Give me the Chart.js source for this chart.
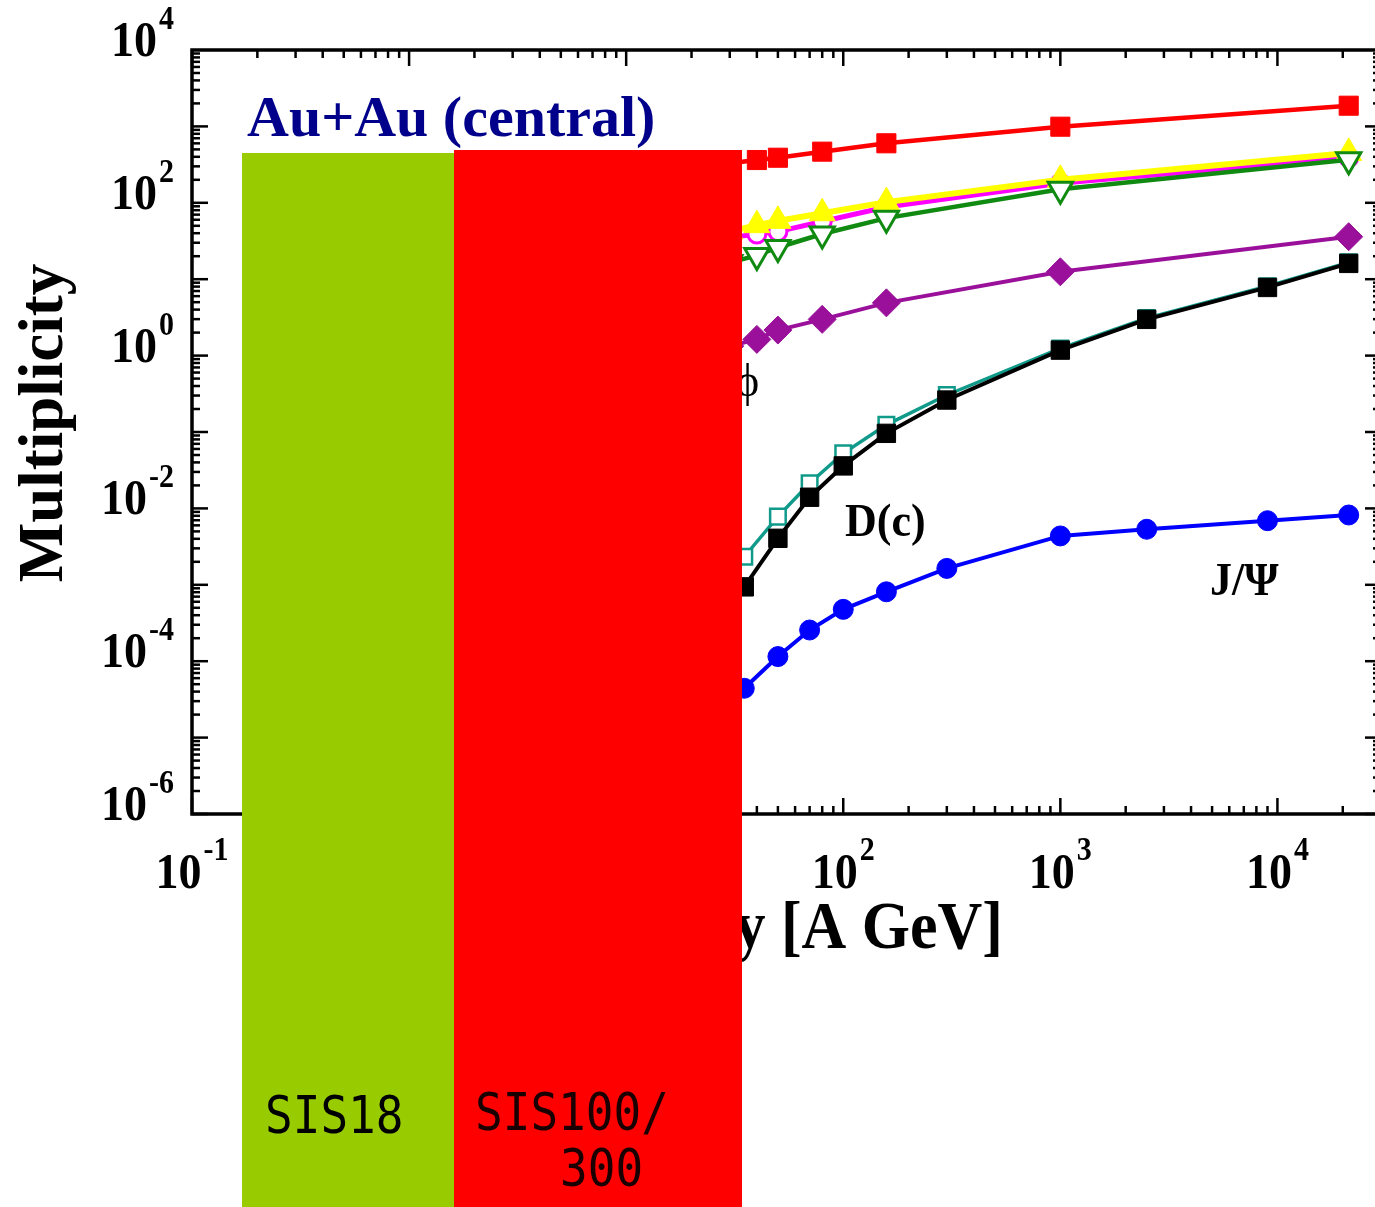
<!DOCTYPE html>
<html>
<head>
<meta charset="utf-8">
<script src="https://cdn.jsdelivr.net/npm/chart.js@4.4.1/dist/chart.umd.min.js"></script>
<style>
  html, body { margin: 0; padding: 0; background: #fff; overflow: hidden; }
  #wrap { width: 1400px; height: 1207px; }
</style>
</head>
<body>
<div id="wrap"><canvas id="chart" width="1400" height="1207"></canvas></div>
<script>
// ---------- data ----------
// beam energy [A GeV] for the light hadron curves (points below 35 are under the boxes)
const hadronEnergy = [10, 20, 30, 40, 50, 80, 158, 1000, 21300];
const redSquares     = [150, 250, 330, 363, 389, 467, 601, 991, 1866];
const yellowTriangle = [18, 32, 42, 51, 58, 73, 102, 200, 450];
const magentaCircle  = [14, 25, 35, 39, 42, 57, 88, 180, 390];
const greenTriangle  = [6, 11, 16.5, 20.5, 26, 39, 63, 150, 367];
const phiDiamond     = [0.3, 0.8, 1.33, 1.63, 2.16, 2.98, 4.9, 12.5, 36];

// beam energy for the charm curves
const charmEnergy = [20, 25, 30, 35, 50, 70, 100, 158, 300, 1000, 2500, 9000, 21300];
const openCharmTeal = [2.5e-4, 6e-4, 1.3e-3, 2.33e-3, 7.8e-3, 0.0213, 0.0526, 0.124, 0.305, 1.24, 3.1, 8.1, 16.6];
const openCharm     = [8e-5, 2.2e-4, 5e-4, 9.4e-4, 4.06e-3, 0.014, 0.036, 0.096, 0.262, 1.18, 2.98, 7.8, 16.1];
const jpsi          = [8e-6, 1.6e-5, 2.8e-5, 4.42e-5, 1.15e-4, 2.56e-4, 4.77e-4, 8.1e-4, 1.64e-3, 4.36e-3, 5.33e-3, 6.9e-3, 8.2e-3];

// tick labels (powers of ten)
const xTickExponents = [-1, 0, 1, 2, 3, 4];
const yTickExponents = [4, 2, 0, -2, -4, -6];

const SERIF = '"Liberation Serif", "Times New Roman", serif';

function series(xs, ys) {
  return xs.map((x, i) => ({ x: x, y: ys[i] }));
}

// draw text with a small vertical stretch (the original glyphs are tall)
function stretchText(ctx, txt, x, y, font, sy, align) {
  ctx.save();
  ctx.font = font;
  ctx.textAlign = align || "left";
  ctx.textBaseline = "alphabetic";
  ctx.translate(x, y);
  ctx.scale(1, sy);
  ctx.fillText(txt, 0, 0);
  ctx.restore();
}

function line(ctx, x1, y1, x2, y2) {
  ctx.beginPath();
  ctx.moveTo(x1, y1);
  ctx.lineTo(x2, y2);
  ctx.stroke();
}

// ---------- frame, ticks, labels, boxes ----------
const framePlugin = {
  id: "frame",
  afterDraw(chart) {
    const ctx = chart.ctx;
    const a = chart.chartArea;
    const xs = chart.scales.x;
    const ys = chart.scales.y;
    ctx.save();
    ctx.fillStyle = "#000";
    ctx.strokeStyle = "#000";

    // tick marks, all pointing inward
    ctx.lineWidth = 2.5;
    for (let e = -1; e <= 4; e++) {
      for (let k = 1; k <= 9; k++) {
        const v = k * Math.pow(10, e);
        if (v > xs.max) break;
        const px = xs.getPixelForValue(v);
        const len = k === 1 ? 16 : 8;
        line(ctx, px, a.bottom, px, a.bottom - len);
        line(ctx, px, a.top, px, a.top + len);
      }
    }
    for (let e = -6; e <= 3; e++) {
      for (let k = 1; k <= 9; k++) {
        const py = ys.getPixelForValue(k * Math.pow(10, e));
        const len = k === 1 ? 16 : 8;
        line(ctx, a.left, py, a.left + len, py);
        line(ctx, a.right, py, a.right - len, py);
      }
    }
    ctx.lineWidth = 3.5;
    ctx.strokeRect(a.left, a.top, a.right - a.left, a.bottom - a.top);

    // tick labels
    const baseFont = "bold 46px " + SERIF;
    const expFont = "bold 30px " + SERIF;
    yTickExponents.forEach(e => {
      const py = ys.getPixelForValue(Math.pow(10, e));
      const ex = String(e);
      ctx.font = expFont;
      const wExp = ctx.measureText(ex).width;
      stretchText(ctx, ex, 174, py - 21, expFont, 1.12, "right");
      stretchText(ctx, "10", 174 - wExp - 2, py + 6, baseFont, 1.12, "right");
    });
    xTickExponents.forEach(e => {
      const px = xs.getPixelForValue(Math.pow(10, e));
      const ex = String(e);
      ctx.font = baseFont;
      const wBase = ctx.measureText("10").width;
      ctx.font = expFont;
      const wExp = ctx.measureText(ex).width;
      const left = px - (wBase + wExp + 2) / 2;
      stretchText(ctx, "10", left, 888, baseFont, 1.12, "left");
      stretchText(ctx, ex, left + wBase + 2, 860, expFont, 1.12, "left");
    });

    // axis titles
    ctx.save();
    ctx.font = "bold 63px " + SERIF;
    ctx.textAlign = "center";
    ctx.textBaseline = "alphabetic";
    ctx.translate(62, 423);
    ctx.rotate(-Math.PI / 2);
    ctx.fillText("Multiplicity", 0, 0);
    ctx.restore();
    stretchText(ctx, "Energy [A GeV]", 1003, 948, "bold 62px " + SERIF, 1.08, "right");

    // curve labels
    stretchText(ctx, "\u03d5", 736, 396, "44px " + SERIF, 1.05, "left");
    stretchText(ctx, "D(c)", 845, 536, "bold 44px " + SERIF, 1.05, "left");
    stretchText(ctx, "J/\u03a8", 1210, 595, "bold 44px " + SERIF, 1.05, "left");

    ctx.fillStyle = "#00008b";
    stretchText(ctx, "Au+Au (central)", 247, 136, "bold 58px " + SERIF, 1.0, "left");

    // accelerator ranges drawn over the plot
    ctx.fillStyle = "#99cc00";
    ctx.fillRect(242, 153, 212, 1207 - 153);
    ctx.fillStyle = "#ff0000";
    ctx.fillRect(454, 150, 288, 1207 - 150);

    const mono = '46px "DejaVu Sans Mono", monospace';
    ctx.fillStyle = "#000";
    stretchText(ctx, "SIS18", 265, 1133, mono, 1.13, "left");
    ctx.fillStyle = "#1a0000";
    stretchText(ctx, "SIS100/", 475, 1130, mono, 1.13, "left");
    stretchText(ctx, "300", 560, 1186, mono, 1.13, "left");

    ctx.restore();
  }
};

// ---------- chart ----------
// first dataset is drawn on top
const datasets = [
  { data: series(charmEnergy, jpsi), borderColor: "#0000ff", backgroundColor: "#0000ff",
    borderWidth: 4, pointStyle: "circle", pointRadius: 10, pointBorderWidth: 1 },
  { data: series(charmEnergy, openCharm), borderColor: "#000", backgroundColor: "#000",
    borderWidth: 4, pointStyle: "rect", pointRadius: 13, pointBorderWidth: 1 },
  { data: series(charmEnergy, openCharmTeal), borderColor: "#109a8a", backgroundColor: "#fff",
    borderWidth: 3.5, pointStyle: "rect", pointRadius: 11, pointBorderWidth: 2.5 },
  { data: series(hadronEnergy, phiDiamond), borderColor: "#9a109a", backgroundColor: "#9a109a",
    borderWidth: 4, pointStyle: "rectRot", pointRadius: 14, pointBorderWidth: 1 },
  { data: series(hadronEnergy, greenTriangle), borderColor: "#108a10", backgroundColor: "#fff",
    borderWidth: 4.5, pointStyle: "triangle", pointRotation: 180, pointRadius: 14, pointBorderWidth: 3 },
  { data: series(hadronEnergy, yellowTriangle), borderColor: "#ffff00", backgroundColor: "#ffff00",
    borderWidth: 6, pointStyle: "triangle", pointRadius: 15, pointBorderWidth: 1 },
  { data: series(hadronEnergy, magentaCircle), borderColor: "#ff00ff", backgroundColor: "#fff",
    borderWidth: 5, pointStyle: "circle", pointRadius: 9, pointBorderWidth: 3 },
  { data: series(hadronEnergy, redSquares), borderColor: "#ff0000", backgroundColor: "#ff0000",
    borderWidth: 4.5, pointStyle: "rect", pointRadius: 13.5, pointBorderWidth: 1 }
];
datasets.forEach(d => {
  d.pointBorderColor = d.borderColor;
  d.tension = 0;
  d.fill = false;
});

new Chart(document.getElementById("chart"), {
  type: "line",
  data: { datasets: datasets },
  options: {
    responsive: false,
    animation: false,
    devicePixelRatio: 1,
    layout: { padding: { left: 192, top: 50, right: 19, bottom: 393 } },
    plugins: { legend: { display: false }, tooltip: { enabled: false } },
    scales: {
      x: { type: "logarithmic", min: 0.1, max: 30000, display: false },
      y: { type: "logarithmic", min: 1e-6, max: 1e4, display: false }
    }
  },
  plugins: [framePlugin]
});
</script>
</body>
</html>
